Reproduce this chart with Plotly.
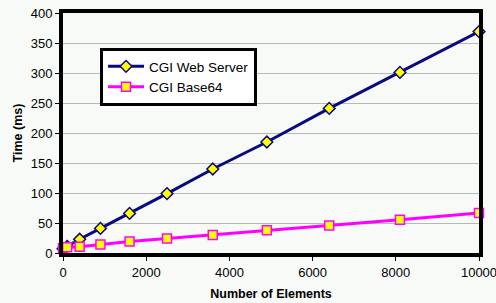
import plotly.graph_objects as go

elements = [0, 100, 400, 900, 1600, 2500, 3600, 4900, 6400, 8100, 10000]
web_server = [7, 11, 23, 41, 66, 99, 140, 185, 241, 301, 369]
base64 = [8, 9.5, 10.5, 14, 19, 24, 30, 38, 46, 55.5, 66.7]
x_ticks = [0, 2000, 4000, 6000, 8000, 10000]
x_tick_labels = ["0", "2000", "4000", "6000", "8000", "10000"]

fig = go.Figure()
fig.add_trace(go.Scatter(
    x=elements, y=web_server, name="CGI Web Server", mode="lines+markers",
    line=dict(color="#0a0a80", width=3),
    marker=dict(symbol="diamond", size=9, color="#ffff00",
                line=dict(color="#0a0a80", width=1.5)),
    cliponaxis=False,
))
fig.add_trace(go.Scatter(
    x=elements, y=base64, name="CGI Base64", mode="lines+markers",
    line=dict(color="#ff00ff", width=3),
    marker=dict(symbol="square", size=9, color="#ffff00",
                line=dict(color="#ff00ff", width=1.5)),
    cliponaxis=False,
))

font = "Liberation Sans, Arial, sans-serif"
fig.update_layout(
    width=496, height=303,
    margin=dict(l=63, r=17, t=13, b=50, autoexpand=False),
    paper_bgcolor="#f8faf8",
    plot_bgcolor="#f8faf8",
    font=dict(family=font, size=13, color="#000000"),
    showlegend=True,
    legend=dict(
        x=0.089, y=0.854, xanchor="left", yanchor="top",
        bgcolor="#ffffff", bordercolor="#000000", borderwidth=3,
        font=dict(size=13.5, family=font),
        itemwidth=36, tracegroupgap=2,
    ),
    xaxis=dict(
        range=[0, 10000], tickvals=x_ticks, ticktext=x_tick_labels,
        ticklabeloverflow="allow",
        showgrid=False, zeroline=False, automargin=False,
        showline=True, linecolor="#000000", linewidth=4, mirror=True,
        ticks="outside", ticklen=4, tickcolor="#000000",
        title=dict(text="<b>Number of Elements</b>", font=dict(size=12.5), standoff=12),
    ),
    yaxis=dict(
        range=[0, 400], dtick=50, automargin=False,
        showgrid=True, gridcolor="#b8b8b8", gridwidth=1, zeroline=False,
        showline=True, linecolor="#000000", linewidth=4, mirror=True,
        ticks="outside", ticklen=4, tickcolor="#000000",
        title=dict(text="<b>Time (ms)</b>", font=dict(size=12.5), standoff=6),
    ),
)

fig.write_html("out.html", config={"displayModeBar": False},
               post_script="document.body.style.margin='0';document.body.style.background='#f8faf8';")
